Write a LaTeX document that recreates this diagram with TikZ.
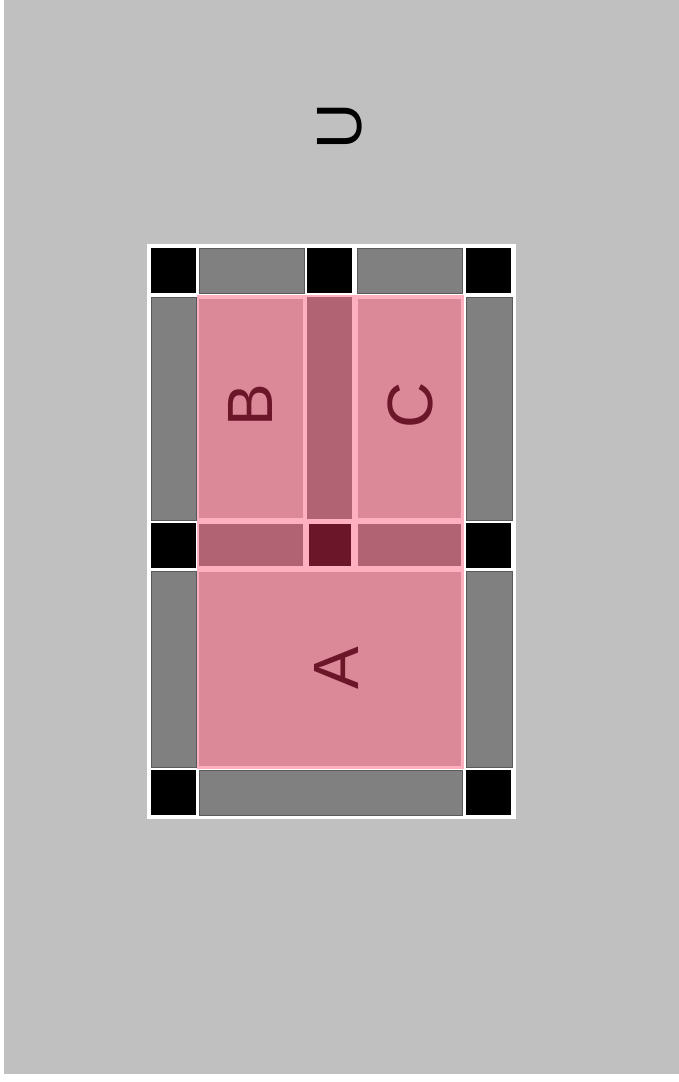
\documentclass[tikz,border=0pt]{standalone}
\usepackage{fontspec}
\setmainfont{Liberation Sans}
\usepackage{tikz}
\usetikzlibrary{positioning}
\definecolor{pagegray}{HTML}{C0C0C0}
\definecolor{cellgray}{HTML}{808080}
\definecolor{celledge}{HTML}{5A5A5A}
\definecolor{pinklight}{HTML}{DB8899}
\definecolor{pinkmid}{HTML}{B26373}
\definecolor{pinkdark}{HTML}{6B1629}
\definecolor{pinkedge}{HTML}{FFB0C0}
\tikzset{
  graycell/.style={fill=cellgray,draw=celledge,line width=0.8pt},
  blackcell/.style={fill=black},
  pinkcell/.style={fill=pinklight},
  overlapcell/.style={fill=pinkmid},
  corecell/.style={fill=pinkdark},
  cellletter/.style={font=\fontsize{64}{64}\selectfont,rotate=90,inner sep=0pt,text=pinkdark}
}
\begin{document}
\begin{tikzpicture}[x=1pt,y=-1pt]
  \useasboundingbox (0,0) rectangle (679,1082);
  \fill[white] (0,0) rectangle (679,1082);
  \fill[pagegray] (4,0) rectangle (679,1074);
  % frame
  \fill[white] (147,244) rectangle (516,819);
  % gray strips
  \draw[graycell] (199,248) rectangle (304,293);
  \draw[graycell] (357,248) rectangle (462,293);
  \draw[graycell] (151,297) rectangle (196,520);
  \draw[graycell] (151,571) rectangle (196,767);
  \draw[graycell] (466,297) rectangle (512,520);
  \draw[graycell] (466,571) rectangle (512,767);
  \draw[graycell] (199,770) rectangle (462,815);
  % black squares
  \foreach \x/\y in {151/248,307/248,466/248,151/523,466/523,151/770,466/770}
    \fill[blackcell] (\x,\y) rectangle ++(45,45);
  % pink regions
  \fill[pinkedge] (197,295) rectangle (464,769);
  \fill[pinkcell] (199,299) rectangle (303,518);
  \fill[pinkcell] (358,299) rectangle (461,518);
  \fill[pinkcell] (199,572) rectangle (461,766);
  \fill[overlapcell] (307,297) rectangle (352,519);
  \fill[overlapcell] (199,524) rectangle (303,566);
  \fill[overlapcell] (358,524) rectangle (461,566);
  \fill[corecell] (309,524) rectangle (351,566);
  % labels
  \node[cellletter,text=black] (u) at (340,126) {U};
  \node[cellletter] (b) at (250,405) {B};
  \node[cellletter] (c) at (410,405) {C};
  \node[cellletter] (a) at (336,668) {A};
\end{tikzpicture}
\end{document}
